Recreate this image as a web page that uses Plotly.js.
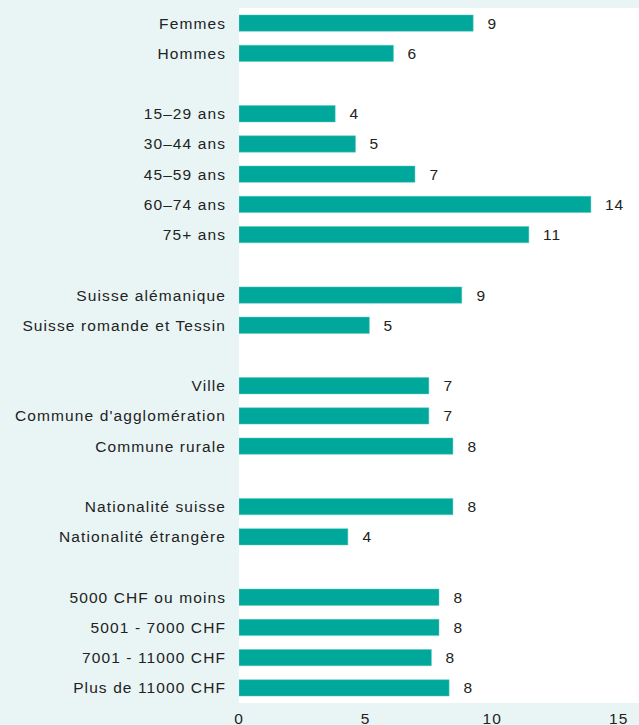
<!DOCTYPE html>
<html><head><meta charset="utf-8">
<script src="https://cdn.plot.ly/plotly-3.0.1.min.js"></script>
<style>html,body{margin:0;padding:0;background:#e9f5f5;}
#chart .ytick text, #chart .xtick text, #chart .annotation-text{letter-spacing:1.1px;}</style>
</head><body>
<div id="chart" style="width:639px;height:725px;"></div>
<script>
const categories = ["Femmes","Hommes","","15–29 ans","30–44 ans","45–59 ans","60–74 ans","75+ ans","","Suisse alémanique","Suisse romande et Tessin","","Ville","Commune d'agglomération","Commune rurale","","Nationalité suisse","Nationalité étrangère","","5000 CHF ou moins","5001 - 7000 CHF","7001 - 11000 CHF","Plus de 11000 CHF"];
const values = [9.25,6.1,null,3.8,4.6,6.95,13.9,11.45,null,8.8,5.15,null,7.5,7.5,8.45,null,8.45,4.3,null,7.9,7.9,7.6,8.3];
const valueLabels = ["9","6","","4","5","7","14","11","","9","5","","7","7","8","","8","4","","8","8","8","8"];
const xTicks = [0,5,10,15];

const pos = categories.map((c,i)=>i);
const font = {family:"Liberation Sans, Arial, sans-serif", size:15.5, color:"#222"};

const trace = {
  type:"bar", orientation:"h",
  x: values, y: pos,
  width: 0.54,
  marker:{color:"#00a89c", line:{color:"#5cc6bd", width:0.5}},
  hoverinfo:"none"
};

const annotations = [];
values.forEach((v,i)=>{
  if(v!==null){
    annotations.push({x:v, y:i, xref:"x", yref:"y", text:valueLabels[i], showarrow:false,
      xanchor:"left", xshift:13, font:font});
  }
});

const layout = {
  width:639, height:725,
  margin:{l:239, r:0, t:8, b:22},
  paper_bgcolor:"#e9f5f5", plot_bgcolor:"#ffffff",
  showlegend:false,
  font:font,
  xaxis:{range:[0,15.8], tickvals:xTicks, ticktext:xTicks.map(String), showgrid:false, zeroline:false,
         showline:false, ticks:"", tickfont:font, ticklabelstandoff:4},
  yaxis:{range:[22.5,-0.5], tickvals:pos, ticktext:categories, showgrid:false, zeroline:false,
         showline:false, ticks:"", tickfont:font, ticklabelstandoff:12},
  annotations:annotations
};
Plotly.newPlot("chart",[trace],layout,{displayModeBar:false, staticPlot:true});
</script>
</body></html>
